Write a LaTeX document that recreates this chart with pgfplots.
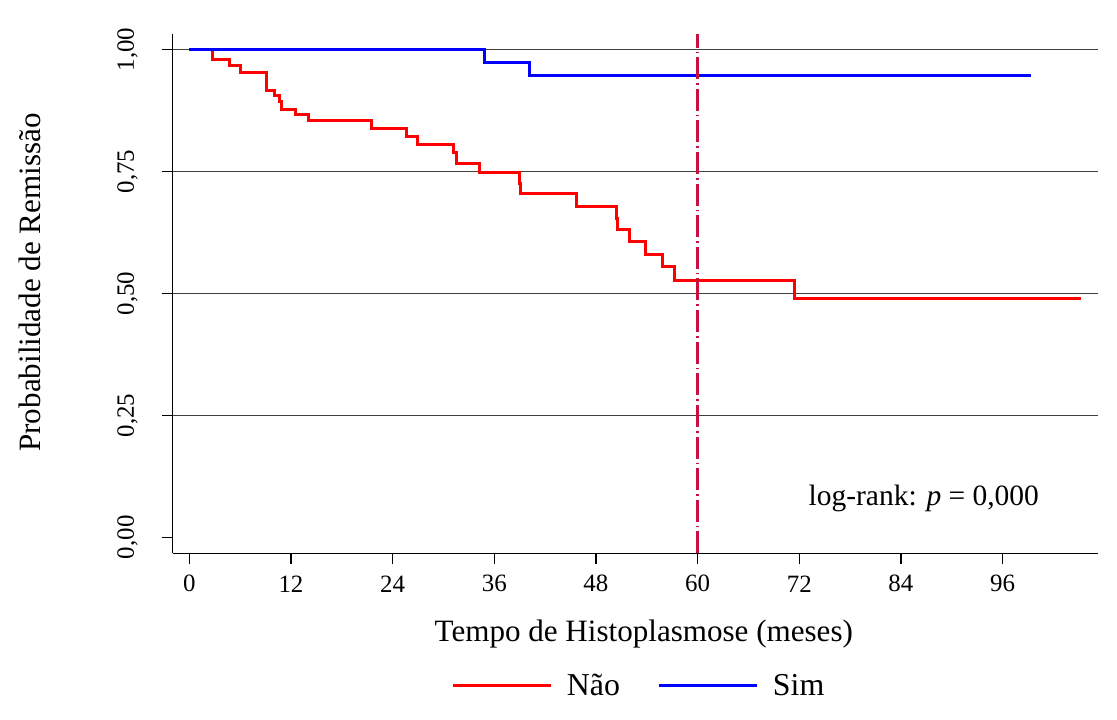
\documentclass[border=0pt]{standalone}
\usepackage{pgfplots}
\pgfplotsset{compat=1.18}
\usepackage{fontspec}
\setmainfont{Liberation Serif}
\definecolor{kmred}{RGB}{255,0,0}
\definecolor{kmblue}{RGB}{0,0,255}
\definecolor{refline}{RGB}{200,16,64}

\pgfplotstableread{
t S
0 1.000
2.75 0.979
4.72 0.967
6.1 0.954
9.06 0.917
10.04 0.906
10.63 0.893
10.9 0.878
12.5 0.866
14.1 0.854
21.45 0.838
25.6 0.822
26.97 0.805
31.2 0.788
31.5 0.767
34.25 0.748
38.97 0.726
39.1 0.7055
45.7 0.679
50.4 0.654
50.5 0.632
51.97 0.606
53.9 0.580
55.8 0.555
57.3 0.526
71.4 0.489
105.2 0.489
}\naodata

\pgfplotstableread{
t S
0 1.000
34.84 0.974
40.2 0.946
99.3 0.946
}\simdata

\begin{document}
\begin{tikzpicture}
\useasboundingbox (-86.35bp,-83.35bp) rectangle (472.15bp,276.65bp);
\begin{axis}[
  at={(0,0)}, anchor=south west,
  scale only axis, width=462.8bp, height=259.65bp,
  xmin=-1.96, xmax=107.3, ymin=-0.0328, ymax=1.032,
  axis x line*=bottom, axis y line*=left,
  axis line style={-, line width=0.6bp, black},
  tick align=outside, major tick length=5.25bp,
  tick style={black, line width=0.6bp},
  xtick={0,12,...,96},
  ytick={0}, extra y ticks={0.25,0.5,0.75,1},
  extra y tick style={ymajorgrids=true},
  major grid style={black!75, line width=0.85bp},
  /pgf/number format/assume math mode=true,
  tick label style={font=\fontsize{12.5}{15}\selectfont},
  yticklabel={\pgfmathprintnumber[use comma, fixed, fixed zerofill, precision=2]{\tick}},
  xticklabel style={anchor=center, yshift=-10bp},
  yticklabel style={xshift=-17.35bp, rotate=90, anchor=center},
  label style={font=\fontsize{15.6}{19}\selectfont},
  xlabel={Tempo de Histoplasmose (meses)},
  ylabel={Probabilidade de Remissão},
  xlabel style={at={(axis description cs:0.509,-0.156)}, anchor=center},
  ylabel style={at={(axis description cs:-0.1542,0.5215)}, anchor=center, rotate=0},
  legend columns=2,
  legend style={draw=none, fill=none, at={(0.505,-0.2555)}, anchor=center,
    font=\fontsize{16}{19}\selectfont,
    /tikz/every even column/.append style={column sep=17bp}},
  legend image code/.code={\draw[#1] (0bp,0bp) -- (49bp,0bp); \path (54bp,0bp);},
]
\addplot[const plot, kmred, line width=1.5bp] table[x=t, y=S] {\naodata};
\addlegendentry{Não}
\addplot[const plot, kmblue, line width=1.5bp] table[x=t, y=S] {\simdata};
\addlegendentry{Sim}
\addplot[refline, line width=1.5bp, dash pattern=on 11bp off 2bp on 0.8bp off 2bp, forget plot] coordinates {(60,-0.0328) (60,1.032)};
\node[font=\fontsize{14.8}{18}\selectfont, anchor=center] at (axis cs:86.7,0.0806) {log-rank: \textit{p} = 0,000};
\end{axis}
\end{tikzpicture}
\end{document}
